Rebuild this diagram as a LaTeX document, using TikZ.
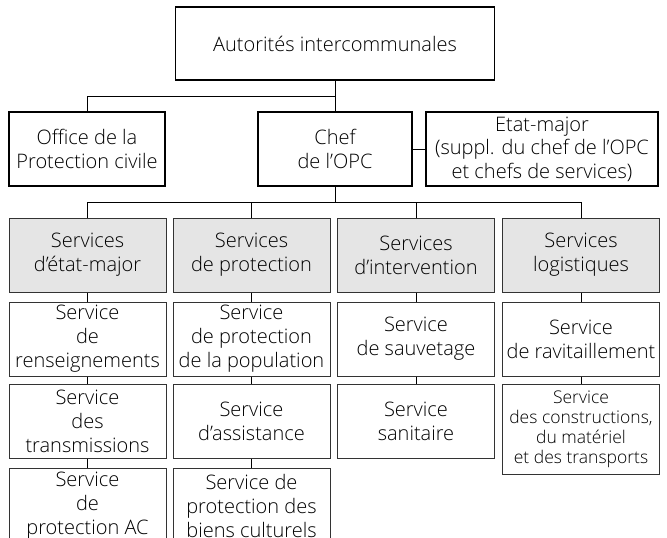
\documentclass[tikz,border=0pt]{standalone}
\usepackage{fontspec}
\setmainfont{Open Sans Light}
\usetikzlibrary{calc}

\begin{document}
\begin{tikzpicture}[x=1pt, y=-1pt, line width=1pt,
    topbox/.style={draw, line width=1.6pt, inner sep=0pt, align=center,
      font=\fontsize{20}{23.5}\selectfont},
    headbox/.style={draw=black!80, line width=1pt, fill=black!10,
      minimum width=157pt, minimum height=74pt, inner sep=0pt, align=center,
      font=\fontsize{20}{24}\selectfont},
    servbox/.style={headbox, fill=white}]
  \useasboundingbox (0,0) rectangle (667,538);
  \clip (0,0) rectangle (667,538);
  \node[topbox, minimum width=319pt, minimum height=73pt] (autorites) at (335,43.5) {Autorités intercommunales};
  \node[topbox, minimum width=156pt, minimum height=74pt] (office) at (87,149) {Office de la\\Protection civile};
  \node[topbox, minimum width=154pt, minimum height=74pt] (chef) at (335,149) {Chef\\de l’OPC};
  \node[topbox, minimum width=232pt, minimum height=74pt] (etatmajor) at (542,149) {Etat-major\\(suppl. du chef de l’OPC\\et chefs de services)};

  \node[headbox] (semaj) at (87.5,255) {Services\\d’état-major};
  \node[headbox] (sprot) at (251.5,255) {Services\\de protection};
  \node[headbox] (sinter) at (416,255) {Services\\d’intervention};
  \node[headbox] (slog) at (581,255) {Services\\logistiques};

  \node[servbox] (srens) at (87.5,339) {Service\\de\\renseignements};
  \node[servbox] (strans) at (87.5,421.5) {Service\\des\\transmissions};
  \node[servbox] (sac) at (87.5,505.5) {Service\\de\\protection AC};
  \node[servbox] (spop) at (251.5,339) {Service\\de protection\\de la population};
  \node[servbox] (sassist) at (251.5,421.5) {Service\\d’assistance};
  \node[servbox] (sbiens) at (251.5,505.5) {Service de\\protection des\\biens culturels};
  \node[servbox] (ssauv) at (416,339) {Service\\de sauvetage};
  \node[servbox] (ssan) at (416,421.5) {Service\\sanitaire};
  \node[servbox] (sravit) at (581,339) {Service\\de ravitaillement};
  \node[servbox, minimum height=90pt, font=\fontsize{17.5}{20}\selectfont] (sconstr) at (581,429) {Service\\des constructions,\\du matériel\\et des transports};

  \draw (autorites) -- (chef);
  \draw (office.north) |- ($(autorites.south)!.5!(chef.north)$);
  \draw (chef) -- (etatmajor);
  \coordinate (bus) at ($(chef.south)!.5!(chef.south |- sinter.north)$);
  \draw (chef.south) -- (bus);
  \foreach \s in {semaj,sprot,sinter,slog}
    \draw (bus) -| (\s.north);
  \foreach \a/\b in {semaj/srens, srens/strans, strans/sac, sprot/spop, spop/sassist,
      sassist/sbiens, sinter/ssauv, ssauv/ssan, slog/sravit, sravit/sconstr}
    \draw (\a) -- (\b);
\end{tikzpicture}
\end{document}
